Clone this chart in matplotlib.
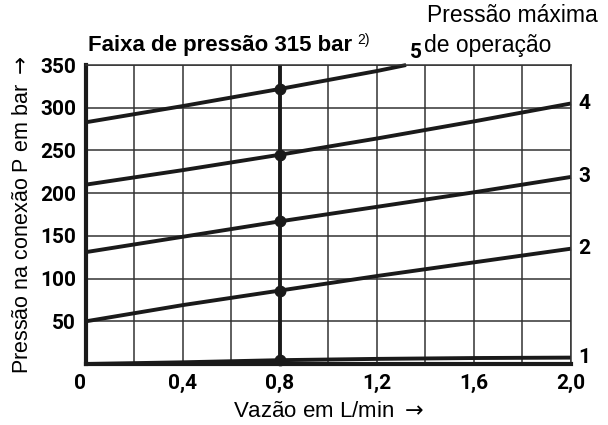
import numpy as np
import matplotlib.pyplot as plt

# flow (L/min) and pressure (bar)
flow = [0.0, 0.4, 0.8, 1.2, 1.6, 2.0]
p1 = [0, 2, 4.5, 6, 7, 7.5]
p2 = [50, 69, 86, 103, 119, 135]
p3 = [131, 149, 167, 184, 201, 219]
p4 = [210, 227, 245, 264, 284, 305]
flow5 = [0.0, 0.4, 0.8, 1.2, 1.32]
p5 = [283, 302, 322, 343, 350]
curve_labels = ["1", "2", "3", "4"]
xticks = [0, 0.4, 0.8, 1.2, 1.6, 2.0]
xticklabels = ["0", "0,4", "0,8", "1,2", "1,6", "2,0"]
yticks = [50, 100, 150, 200, 250, 300, 350]

bold = dict(family=['Roboto', 'DejaVu Sans'], fontweight='bold', fontsize=15)
reg = ['Liberation Sans', 'DejaVu Sans']

fig = plt.figure(figsize=(6.08, 4.25), dpi=100)
ax = fig.add_axes([0.1414, 0.1435, 0.7977, 0.7035])
ax.set_xlim(0, 2.0)
ax.set_ylim(0, 350)

ax.set_xticks(np.arange(0, 2.01, 0.2), minor=True)
ax.set_yticks(np.arange(0, 351, 50), minor=True)
ax.grid(True, which='both', color='#333333', lw=1.1)
ax.set_axisbelow(True)
ax.tick_params(which='both', length=0)

ax.set_xticks(xticks)
ax.set_xticklabels(xticklabels, **bold)
ax.set_yticks(yticks)
ax.set_yticklabels([str(v) for v in yticks], **bold)
ax.tick_params(axis='x', pad=7)
ax.tick_params(axis='y', pad=7)
ax.get_xticklabels()[0].set_horizontalalignment('right')

for s in ['top', 'right']:
    ax.spines[s].set_linewidth(1.1)
    ax.spines[s].set_color('#333333')
for s in ['left', 'bottom']:
    ax.spines[s].set_linewidth(3)
    ax.spines[s].set_color('#1a1a1a')

lc = '#1a1a1a'
curves = [p1, p2, p3, p4]
for ys in curves:
    ax.plot(flow, ys, color=lc, lw=2.8, solid_capstyle='butt', clip_on=False)
ax.plot(flow5, p5, color=lc, lw=2.8, solid_capstyle='butt', clip_on=False)

ax.plot([0.8, 0.8], [0, 350], color=lc, lw=2.8)
dots = [np.interp(0.8, flow, ys) for ys in curves] + [np.interp(0.8, flow5, p5)]
ax.plot([0.8] * len(dots), dots, 'o', color=lc, ms=7.5, clip_on=False)

for lab, ys in zip(curve_labels, curves):
    ax.text(2.032, ys[-1], lab, ha='left', va='center', **bold)
ax.text(1.36, 354, "5", ha='center', va='bottom', **bold)

ax.set_xlabel("Vazão em L/min $\\rightarrow$", family=reg, fontsize=16, labelpad=6)
ax.set_ylabel("Pressão na conexão P em bar $\\rightarrow$", family=reg, fontsize=15.5,
              labelpad=5)

fig.text(0.145, 0.894, "Faixa de pressão 315 bar", family=reg, fontweight='bold',
         fontsize=16, ha='left', va='center')
fig.text(0.588, 0.905, "2)", family=reg, fontsize=10, ha='left', va='center')
fig.text(0.703, 0.963, "Pressão máxima", family=reg, fontsize=16.5, ha='left', va='center')
fig.text(0.698, 0.893, "de operação", family=reg, fontsize=16.5, ha='left', va='center')

fig.savefig("out.png", dpi=100)
